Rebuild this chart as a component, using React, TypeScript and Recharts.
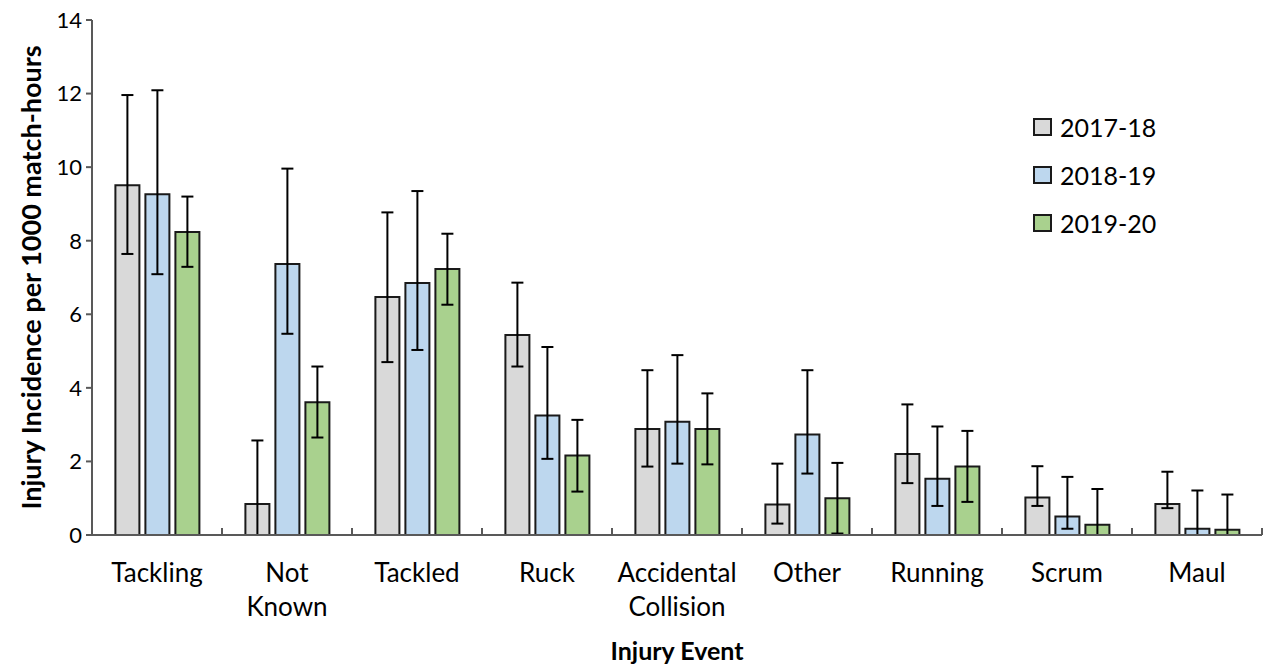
import React from "react";
import { BarChart, Bar, XAxis, YAxis, ErrorBar, Label } from "recharts";

const categories = ["Tackling", "Not Known", "Tackled", "Ruck", "Accidental Collision", "Other", "Running", "Scrum", "Maul"];

const s1718 = [9.51, 0.84, 6.47, 5.44, 2.88, 0.83, 2.2, 1.02, 0.84];
const s1718Low = [7.64, 0, 4.7, 4.58, 1.86, 0.31, 1.41, 0.79, 0.73];
const s1718High = [11.96, 2.57, 8.77, 6.86, 4.48, 1.94, 3.55, 1.87, 1.72];

const s1819 = [9.26, 7.37, 6.85, 3.25, 3.08, 2.73, 1.53, 0.5, 0.17];
const s1819Low = [7.09, 5.47, 5.03, 2.07, 1.94, 1.67, 0.79, 0.17, 0];
const s1819High = [12.09, 9.96, 9.35, 5.11, 4.89, 4.48, 2.95, 1.58, 1.21];

const s1920 = [8.24, 3.61, 7.23, 2.16, 2.88, 1.0, 1.86, 0.28, 0.14];
const s1920Low = [7.29, 2.65, 6.26, 1.18, 1.92, 0.04, 0.9, 0, 0];
const s1920High = [9.2, 4.58, 8.19, 3.13, 3.85, 1.96, 2.83, 1.25, 1.1];

const seasons = ["2017-18", "2018-19", "2019-20"];
const colors = ["#D9D9D9", "#BDD7EE", "#A9D18E"];

const yTicks = [0, 2, 4, 6, 8, 10, 12, 14];

const FONT = "Lato, 'Open Sans', sans-serif";
const AXIS = "#595959";

// ErrorBar wants [below, above] as distances from the bar value
const err = (v: number[], lo: number[], hi: number[], i: number) => [v[i] - lo[i], hi[i] - v[i]];

const data = categories.map((name, i) => ({
  name,
  y1718: s1718[i],
  y1819: s1819[i],
  y1920: s1920[i],
  e1718: err(s1718, s1718Low, s1718High, i),
  e1819: err(s1819, s1819Low, s1819High, i),
  e1920: err(s1920, s1920Low, s1920High, i),
}));

function CategoryTick(props: any) {
  const { x, y, payload, index, visibleTicksCount } = props;
  const half = payload?.offset || 65;
  const lines = String(payload.value).split(" ");
  return (
    <g>
      <line x1={x - half} y1={y} x2={x - half} y2={y - 7} stroke={AXIS} strokeWidth={2} />
      {index === visibleTicksCount - 1 && (
        <line x1={x + half} y1={y} x2={x + half} y2={y - 7} stroke={AXIS} strokeWidth={2} />
      )}
      <text x={x} y={y} textAnchor="middle" fontSize={26} fill="#000" fontFamily={FONT}>
        {lines.map((l, i) => (
          <tspan key={i} x={x} dy={i === 0 ? 47 : 34}>
            {l}
          </tspan>
        ))}
      </text>
    </g>
  );
}

function SeasonLegend() {
  return (
    <div style={{ position: "absolute", left: 1033, top: 103, fontFamily: FONT, fontSize: 25, color: "#000" }}>
      {seasons.map((s, i) => (
        <div key={s} style={{ display: "flex", alignItems: "center", height: 48 }}>
          <span
            style={{
              display: "inline-block",
              width: 15,
              height: 14,
              background: colors[i],
              border: "2px solid #1a1a1a",
              marginRight: 8,
            }}
          />
          <span>{s}</span>
        </div>
      ))}
    </div>
  );
}

export default function App() {
  return (
    <div style={{ position: "absolute", left: 0, top: 0, width: 1271, height: 668, background: "#fff" }}>
      <BarChart
        width={1271}
        height={668}
        data={data}
        margin={{ top: 20, right: 9, left: 0, bottom: 0 }}
        barCategoryGap="18%"
        barGap={6}
      >
        <XAxis
          dataKey="name"
          height={133}
          tickLine={false}
          tickSize={0}
          tickMargin={0}
          interval={0}
          axisLine={{ stroke: AXIS, strokeWidth: 2 }}
          tick={<CategoryTick />}
        >
          <Label
            content={(p: any) => {
              const vb = p.viewBox;
              return (
                <text
                  x={vb.x + vb.width / 2}
                  y={vb.y + 125}
                  textAnchor="middle"
                  fontSize={25}
                  fontWeight="bold"
                  fontFamily={FONT}
                  fill="#000"
                >
                  Injury Event
                </text>
              );
            }}
          />
        </XAxis>
        <YAxis
          width={92}
          domain={[0, 14]}
          ticks={yTicks}
          allowDataOverflow
          tickSize={6}
          tickMargin={4}
          axisLine={{ stroke: AXIS, strokeWidth: 2 }}
          tickLine={{ stroke: AXIS, strokeWidth: 2 }}
          tick={{ fontSize: 22, fill: "#000", fontFamily: FONT }}
        >
          <Label
            content={(p: any) => {
              const vb = p.viewBox;
              const cx = vb.x + 30;
              const cy = vb.y + vb.height / 2;
              return (
                <text
                  x={cx}
                  y={cy}
                  transform={`rotate(-90, ${cx}, ${cy})`}
                  textAnchor="middle"
                  dominantBaseline="central"
                  fontSize={27}
                  fontWeight="bold"
                  fontFamily={FONT}
                  fill="#000"
                >
                  Injury Incidence per 1000 match-hours
                </text>
              );
            }}
          />
        </YAxis>
        <Bar dataKey="y1718" name={seasons[0]} fill={colors[0]} stroke="#1a1a1a" strokeWidth={2} isAnimationActive={false}>
          <ErrorBar dataKey="e1718" width={6} stroke="#000" strokeWidth={2} isAnimationActive={false} />
        </Bar>
        <Bar dataKey="y1819" name={seasons[1]} fill={colors[1]} stroke="#1a1a1a" strokeWidth={2} isAnimationActive={false}>
          <ErrorBar dataKey="e1819" width={6} stroke="#000" strokeWidth={2} isAnimationActive={false} />
        </Bar>
        <Bar dataKey="y1920" name={seasons[2]} fill={colors[2]} stroke="#1a1a1a" strokeWidth={2} isAnimationActive={false}>
          <ErrorBar dataKey="e1920" width={6} stroke="#000" strokeWidth={2} isAnimationActive={false} />
        </Bar>
      </BarChart>
      <SeasonLegend />
    </div>
  );
}
